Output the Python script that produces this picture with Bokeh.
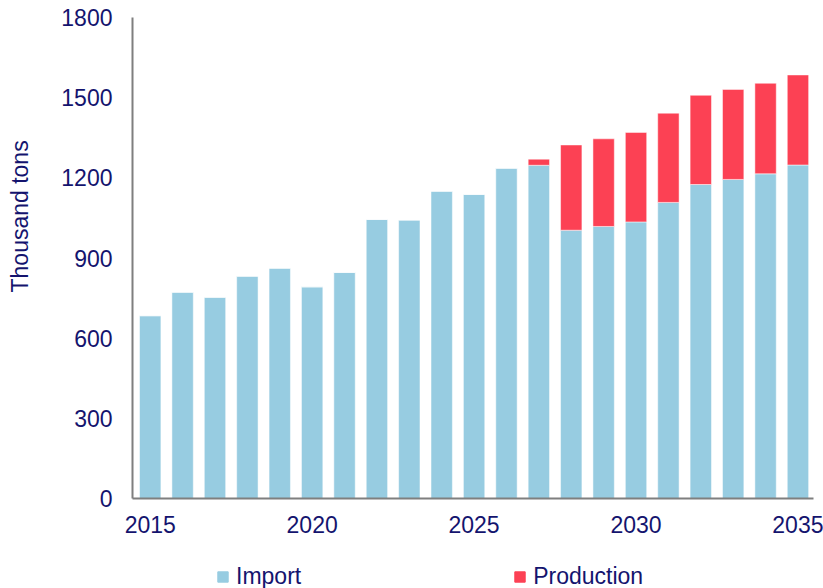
from bokeh.plotting import figure
from bokeh.models import (ColumnDataSource, Legend, LegendItem, FixedTicker, Range1d,
                          Title)
from bokeh.layouts import column
from bokeh.embed import file_html
from bokeh.resources import INLINE

years = list(range(2015, 2036))
imports = [684, 772, 753, 832, 862, 792, 846, 1044, 1042, 1150, 1138, 1236,
           1247, 1004, 1018, 1035, 1108, 1175, 1194, 1215, 1248]
production = [0, 0, 0, 0, 0, 0, 0, 0, 0, 0, 0, 0,
              23, 319, 328, 335, 334, 334, 337, 339, 337]
series = ["Import", "Production"]
colors = ["#97CCE1", "#FC4154"]
y_ticks = [0, 300, 600, 900, 1200, 1500, 1800]
x_ticks = [2015, 2020, 2025, 2030, 2035]

TEXT = "#14146e"
FONT = "Liberation Sans"

source = ColumnDataSource(dict(year=years, Import=imports, Production=production))

p = figure(width=823, height=550, output_backend="svg", toolbar_location=None,
           x_range=Range1d(2014.453, 2035.48), y_range=Range1d(0, 1800),
           min_border_left=132, min_border_right=10, min_border_top=17,
           min_border_bottom=52)
p.outline_line_color = None
p.grid.visible = False

r = p.vbar_stack(series, x="year", width=0.66, source=source,
                 color=colors, line_color="white", line_alpha=0.5, line_width=1)

for ax in (p.xaxis[0], p.yaxis[0]):
    ax.major_tick_out = 0
    ax.major_tick_in = 0
    ax.minor_tick_out = 0
    ax.minor_tick_in = 0
    ax.axis_line_color = "#7f7f7f"
    ax.axis_line_width = 2
    ax.major_label_text_font = FONT
    ax.major_label_text_font_size = "23px"
    ax.major_label_text_color = TEXT

p.xaxis.ticker = FixedTicker(ticks=x_ticks)
p.yaxis.ticker = FixedTicker(ticks=y_ticks)
p.xaxis.major_label_standoff = 17
p.yaxis.major_label_standoff = 20

ylab = Title(text="Thousand tons\n ", align="left", offset=206, standoff=0,
             vertical_align="bottom",
             text_font=FONT, text_font_size="23px", text_font_style="normal",
             text_color=TEXT)
p.add_layout(ylab, "left")

# legend strip
lp = figure(width=823, height=38, output_backend="svg", toolbar_location=None,
            x_range=Range1d(0, 1), y_range=Range1d(0, 1),
            x_axis_type=None, y_axis_type=None,
            min_border_left=0, min_border_right=0, min_border_top=0,
            min_border_bottom=0)
lp.outline_line_color = None
lp.grid.visible = False
lsrc = ColumnDataSource(dict(x=[-10], top=[-10]))
lr = [lp.vbar(x="x", top="top", width=0.1, source=lsrc, color=c) for c in colors]
legend = Legend(items=[LegendItem(label=s, renderers=[rr]) for s, rr in zip(series, lr)],
                orientation="horizontal", location=(84, -2),
                glyph_width=13, glyph_height=13, label_standoff=7, spacing=212,
                padding=0, margin=0, border_line_color=None,
                background_fill_alpha=0,
                label_text_font=FONT, label_text_font_size="23px",
                label_text_color=TEXT)
lp.add_layout(legend, "center")

layout = column(p, lp, spacing=0)
open("out.html", "w").write(file_html(layout, INLINE))
